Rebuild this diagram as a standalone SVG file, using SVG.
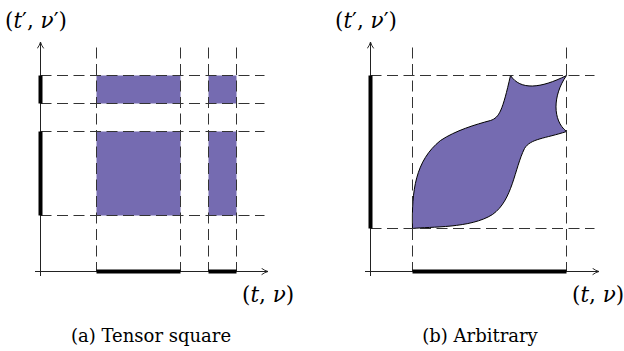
<svg xmlns="http://www.w3.org/2000/svg" width="624" height="351" viewBox="0 0 624 351">
<defs>
<style>
.axis{stroke:#222;stroke-width:1;fill:none}
.dash{stroke:#333;stroke-width:1;stroke-dasharray:11 5.5;fill:none}
.bar{stroke:#000;stroke-width:4;fill:none}
.reg{fill:#756bb1;stroke:none}
.fish{fill:#756bb1;stroke:#000;stroke-width:1}
.math{font-family:"DejaVu Serif","Liberation Serif",serif;font-size:21.5px;fill:#000}
.it{font-style:italic}
.cap{font-family:"DejaVu Serif","Liberation Serif",serif;font-size:18px;fill:#000}
</style>
<marker id="arr" viewBox="0 0 10 10" refX="9" refY="5" markerWidth="8" markerHeight="8" markerUnits="userSpaceOnUse" orient="auto">
<path d="M1 1 Q5 4 9 5 Q5 6 1 9" fill="none" stroke="#222" stroke-width="1.2"/>
</marker>
</defs>

<g id="panel-a">
  <g id="a-regions" transform="translate(0.5,0.5)">
    <rect class="reg" x="96" y="75" width="84" height="28"/>
    <rect class="reg" x="208" y="75" width="28" height="28"/>
    <rect class="reg" x="96" y="131" width="84" height="84"/>
    <rect class="reg" x="208" y="131" width="28" height="84"/>
  </g>
  <g id="a-dashes" transform="translate(0.5,0.5)">
    <line class="dash" x1="96" y1="47" x2="96" y2="271"/>
    <line class="dash" x1="180" y1="47" x2="180" y2="271"/>
    <line class="dash" x1="208" y1="47" x2="208" y2="271"/>
    <line class="dash" x1="236" y1="47" x2="236" y2="271"/>
    <line class="dash" x1="40" y1="75" x2="264" y2="75"/>
    <line class="dash" x1="40" y1="103" x2="264" y2="103"/>
    <line class="dash" x1="40" y1="131" x2="264" y2="131"/>
    <line class="dash" x1="40" y1="215" x2="264" y2="215"/>
  </g>
  <g id="a-axes">
    <line class="axis" x1="40.5" y1="276" x2="40.5" y2="42" marker-end="url(#arr)"/>
    <line class="axis" x1="35" y1="271.5" x2="268" y2="271.5" marker-end="url(#arr)"/>
  </g>
  <g id="a-bars">
    <line class="bar" x1="40.5" y1="75.5" x2="40.5" y2="103.5"/>
    <line class="bar" x1="40.5" y1="131.5" x2="40.5" y2="215.5"/>
    <line class="bar" x1="96.5" y1="271.5" x2="180.5" y2="271.5"/>
    <line class="bar" x1="208.5" y1="271.5" x2="236.5" y2="271.5"/>
  </g>
  <text class="math" x="5" y="28">(<tspan class="it">t</tspan>′, <tspan class="it">ν</tspan>′)</text>
  <text class="math" x="242" y="302">(<tspan class="it">t</tspan>, <tspan class="it">ν</tspan>)</text>
  <text class="cap" x="151" y="342" text-anchor="middle">(a) Tensor square</text>
</g>

<g id="panel-b">
  <g id="b-region" transform="translate(0.5,0.5)">
    <path class="fish" d="M412 228 C411 190 415 160 440 140 C455 130 475 124 490 120 C499 117 502 110 510 75 C520 90 540 88 566 75 C552 95 552 120 566 131 C545 138 530 138 524 148 C514 168 512 200 492 214 C470 228 430 226 412 228 Z"/>
  </g>
  <g id="b-dashes" transform="translate(0.5,0.5)">
    <line class="dash" x1="412" y1="47" x2="412" y2="271"/>
    <line class="dash" x1="566" y1="47" x2="566" y2="271"/>
    <line class="dash" x1="370" y1="75" x2="594" y2="75"/>
    <line class="dash" x1="370" y1="228" x2="594" y2="228"/>
  </g>
  <g id="b-axes">
    <line class="axis" x1="370.5" y1="276" x2="370.5" y2="42" marker-end="url(#arr)"/>
    <line class="axis" x1="365" y1="271.5" x2="599" y2="271.5" marker-end="url(#arr)"/>
  </g>
  <g id="b-bars">
    <line class="bar" x1="370.5" y1="75.5" x2="370.5" y2="228.5"/>
    <line class="bar" x1="412.5" y1="271.5" x2="566.5" y2="271.5"/>
  </g>
  <text class="math" x="335" y="28">(<tspan class="it">t</tspan>′, <tspan class="it">ν</tspan>′)</text>
  <text class="math" x="572" y="302">(<tspan class="it">t</tspan>, <tspan class="it">ν</tspan>)</text>
  <text class="cap" x="480" y="342" text-anchor="middle">(b) Arbitrary</text>
</g>
</svg>
